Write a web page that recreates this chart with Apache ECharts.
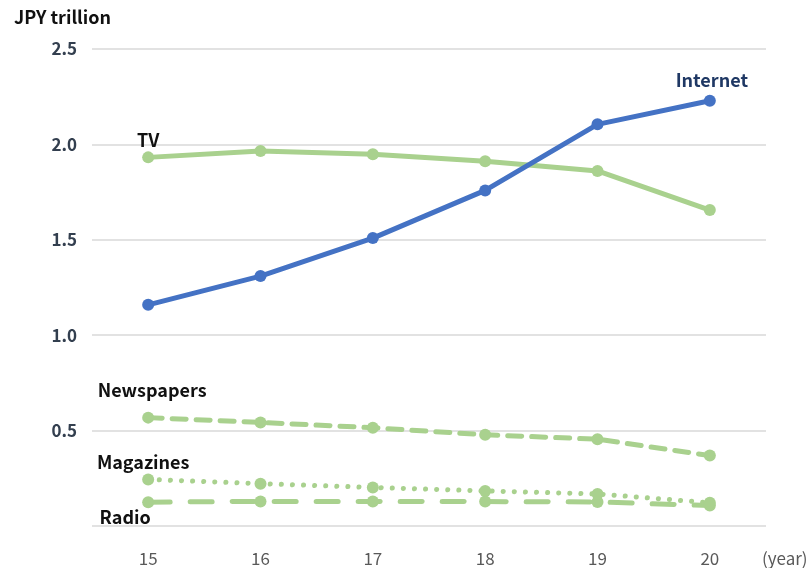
<!DOCTYPE html>
<html lang="en">
<head>
    <meta charset="UTF-8">
    <title>Ad spend by medium</title>
    <script src="https://cdn.jsdelivr.net/npm/echarts@6/dist/echarts.min.js"></script>
    <style>
        html, body { margin: 0; padding: 0; background: #fff; }
        #main { width: 811px; height: 568px; }
    </style>
</head>
<body>
<div id="main"></div>
<script>
    // years and values (JPY trillion)
    var years = ['15', '16', '17', '18', '19', '20'];
    var internet = [1.159, 1.310, 1.509, 1.759, 2.105, 2.229];
    var tv = [1.932, 1.966, 1.948, 1.912, 1.861, 1.656];
    var newspapers = [0.568, 0.543, 0.515, 0.478, 0.455, 0.369];
    var magazines = [0.244, 0.222, 0.202, 0.184, 0.168, 0.122];
    var radio = [0.125, 0.129, 0.129, 0.128, 0.126, 0.107];
    var yTicks = [0, 0.5, 1.0, 1.5, 2.0, 2.5];

    var green = '#A9D18E', blue = '#4472C4';
    var font = '"Noto Sans CJK JP", "Noto Sans", sans-serif';

    // put a name label on one point of a series
    function withLabel(values, idx, text, label) {
        return values.map(function (v, i) {
            if (i !== idx) return v;
            return {
                value: v,
                label: Object.assign({
                    show: true,
                    formatter: text,
                    fontFamily: font,
                    fontWeight: 'bold',
                    fontSize: 18,
                    color: '#111'
                }, label)
            };
        });
    }

    function lineSeries(name, data, color, type, z) {
        return {
            name: name,
            type: 'line',
            data: data,
            symbol: 'circle',
            symbolSize: 12,
            z: z,
            itemStyle: { color: color },
            lineStyle: { color: color, width: 5, type: type, cap: 'round' },
            label: { show: false }
        };
    }

    var chart = echarts.init(document.getElementById('main'));
    chart.setOption({
        animation: false,
        title: {
            text: 'JPY trillion',
            left: 9, top: 3,
            textStyle: { fontFamily: font, fontWeight: 'bold', fontSize: 18, color: '#111' }
        },
        grid: { left: 92, right: 45, top: 49, bottom: 42 },
        xAxis: {
            type: 'category',
            data: years,
            boundaryGap: true,
            axisLine: { show: false },
            axisTick: { show: false },
            axisLabel: { margin: 24, fontFamily: font, fontSize: 17, color: '#595959' },
            name: '(year)',
            nameLocation: 'end',
            nameGap: 0,
            nameTextStyle: {
                fontFamily: font, fontSize: 17, color: '#595959',
                align: 'left', verticalAlign: 'top', padding: [24, 0, 0, -4]
            }
        },
        yAxis: {
            type: 'value',
            min: yTicks[0],
            max: yTicks[yTicks.length - 1],
            interval: 0.5,
            axisLine: { show: false },
            axisTick: { show: false },
            splitLine: { lineStyle: { color: '#d9d9d9', width: 1.5 } },
            axisLabel: {
                margin: 15,
                fontFamily: font, fontWeight: 'bold', fontSize: 17, color: '#333f4f',
                formatter: function (v) { return v === 0 ? '' : v.toFixed(1); }
            }
        },
        series: [
            lineSeries('Radio', withLabel(radio, 0, 'Radio', { position: 'bottom', distance: 0, offset: [-23, 0] }), green, [22, 20], 2),
            lineSeries('Magazines', withLabel(magazines, 0, 'Magazines', { position: 'top', distance: 2, offset: [-5, 0] }), green, [0.1, 11], 2),
            lineSeries('Newspapers', withLabel(newspapers, 0, 'Newspapers', { position: 'top', distance: 12, offset: [4, 0] }), green, [14, 10], 2),
            lineSeries('TV', withLabel(tv, 0, 'TV', { position: 'top', distance: 2 }), green, 'solid', 3),
            lineSeries('Internet', withLabel(internet, 5, 'Internet', { position: 'top', distance: 6, color: '#1F3864', offset: [2, 0] }), blue, 'solid', 4)
        ]
    });
</script>
</body>
</html>
